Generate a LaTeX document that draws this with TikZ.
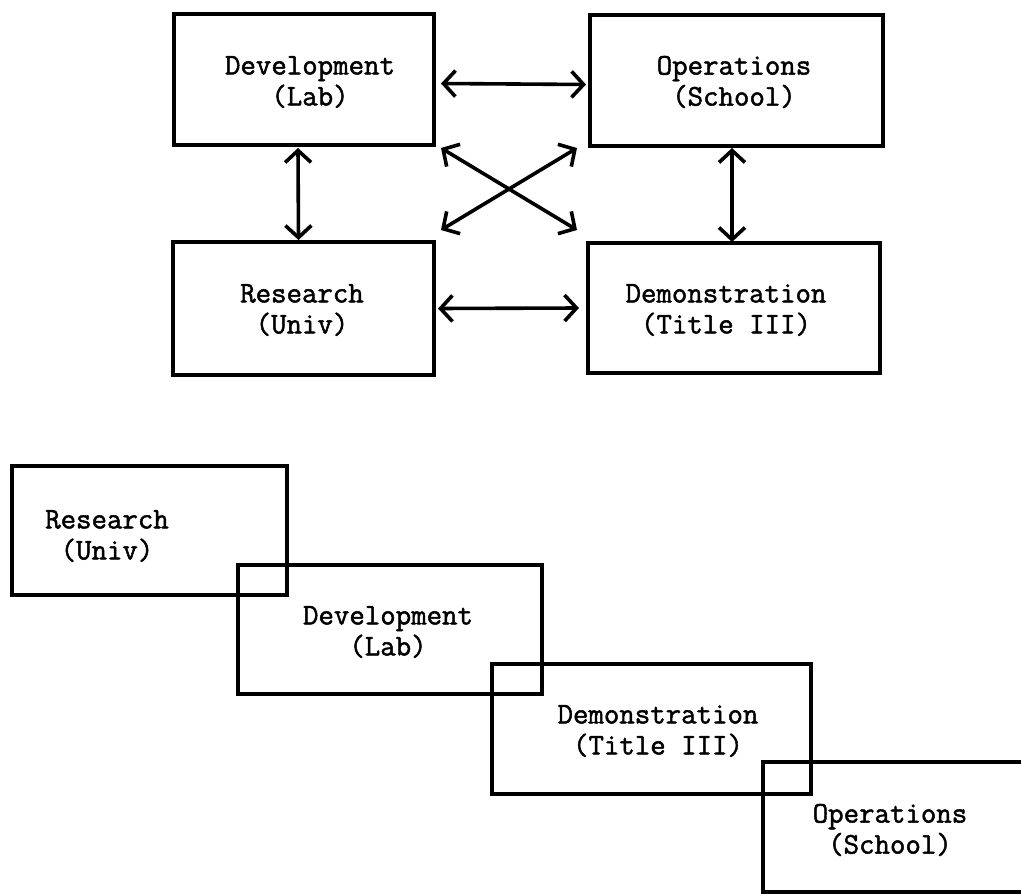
\documentclass[tikz,border=0pt]{standalone}
\usepackage{fontspec}
\setmonofont{Latin Modern Mono}[FakeBold=1.6]
\usetikzlibrary{arrows.meta}
\begin{document}
\begin{tikzpicture}[x=1pt,y=-1pt,
  box/.style={draw, line width=3.4pt, inner sep=0pt, outer sep=0pt, line join=miter},
  lbl/.style={font=\ttfamily\fontsize{30}{31}\selectfont, align=center, inner sep=0pt},
  arr/.style={line width=3.6pt, {Straight Barb[length=12pt,width=26pt,line width=3.6pt]}-{Straight Barb[length=12pt,width=26pt,line width=3.6pt]}}]
\useasboundingbox (0,0) rectangle (1021,894);
\clip (0,0) rectangle (1021,894);
% top diagram
\node[box, minimum width=260pt, minimum height=131pt] (devT) at (304,79.5) {};
\node[box, minimum width=293pt, minimum height=131pt] (opsT) at (736.5,80.5) {};
\node[box, minimum width=261pt, minimum height=133pt] (resT) at (303.5,308.5) {};
\node[box, minimum width=292pt, minimum height=130pt] (demT) at (734,308) {};
\node[lbl] (devTt) at (310,82) {Development\\(Lab)};
\node[lbl] (opsTt) at (734,82) {Operations\\(School)};
\node[lbl] (resTt) at (302,310) {Research\\(Univ)};
\node[lbl] (demTt) at (726,310) {Demonstration\\(Title III)};
\draw[arr] ([shift={(7,4)}]devT.east) -- ([shift={(-4,4)}]opsT.west);
\draw[arr] ([shift={(-6,3)}]devT.south) -- ([shift={(-5,-2)}]resT.north);
\draw[arr] ([shift={(-4.5,2)}]opsT.south) -- ([shift={(-2,-1)}]demT.north);
\draw[arr] ([shift={(4,0)}]resT.east) -- ([shift={(-9,0)}]demT.west);
\draw[arr] ([shift={(7,3)}]devT.south east) -- ([shift={(-11,-13)}]demT.north west);
\draw[arr] ([shift={(7,-12)}]resT.north east) -- ([shift={(-13,2)}]opsT.south west);
% bottom diagram
\node[box, minimum width=275pt, minimum height=129pt] (resB) at (149.5,530.5) {};
\node[box, minimum width=304pt, minimum height=129pt] (devB) at (390,629.5) {};
\node[box, minimum width=319pt, minimum height=130pt] (demB) at (651.5,729) {};
\node[box, minimum width=300pt, minimum height=130pt] (opsB) at (913,827) {};
\node[lbl] (resBt) at (107,536) {Research\\(Univ)};
\node[lbl] (devBt) at (388,632) {Development\\(Lab)};
\node[lbl] (demBt) at (658,731) {Demonstration\\(Title III)};
\node[lbl] (opsBt) at (890,830) {Operations\\(School)};
\end{tikzpicture}
\end{document}
